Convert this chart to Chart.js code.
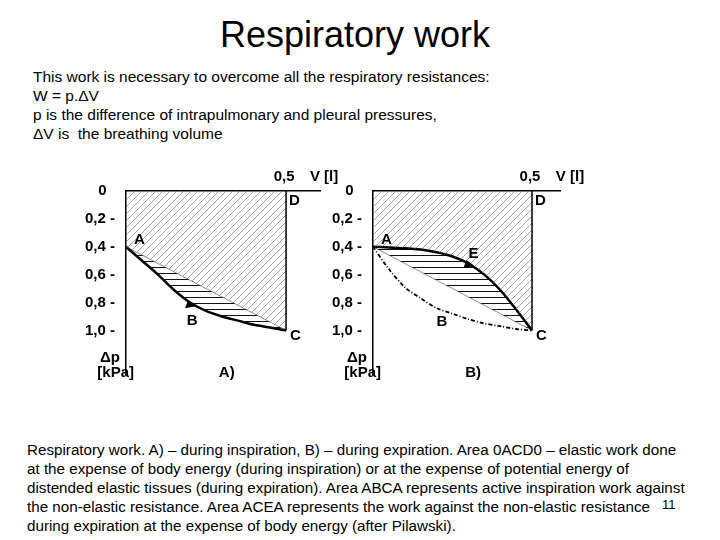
<!DOCTYPE html>
<html>
<head>
<meta charset="utf-8">
<script src="https://cdn.jsdelivr.net/npm/chart.js@4/dist/chart.umd.min.js"></script>
<style>
  body { margin: 0; width: 720px; height: 540px; background: #fff; font-family: Arial, "Liberation Sans", sans-serif; position: relative; overflow: hidden; }
  h1 { position: absolute; left: 0; width: 710px; top: 14px; margin: 0; text-align: center; font-weight: normal; font-size: 36px; }
  .intro { position: absolute; left: 33px; top: 67px; font-size: 15.5px; line-height: 19px; }
  .caption { position: absolute; left: 27px; top: 441px; font-size: 15.2px; line-height: 18.9px; width: 665px; }
  .pg { position: absolute; left: 662px; top: 497px; font-size: 13px; }
  canvas { position: absolute; }
</style>
</head>
<body>
<h1>Respiratory work</h1>
<div class="intro">This work is necessary to overcome all the respiratory resistances:<br>
W = p.&Delta;V<br>
p is the difference of intrapulmonary and pleural pressures,<br>
&Delta;V is&nbsp; the breathing volume</div>
<div style="position:absolute;left:70px;top:165px;width:300px;height:235px"><canvas id="chartA"></canvas></div>
<div style="position:absolute;left:317px;top:165px;width:293px;height:235px"><canvas id="chartB"></canvas></div>
<div class="caption">Respiratory work. A) – during inspiration, B) – during expiration. Area 0ACD0 – elastic work done at the expense of body energy (during inspiration) or at the expense of potential energy of distended elastic tissues (during expiration). Area ABCA represents active inspiration work against the non-elastic resistance. Area ACEA represents the work against the non-elastic resistance during expiration at the expense of body energy (after Pilawski).</div>
<div class="pg">11</div>
<script>
const volumes = [0, 0.05, 0.1, 0.15, 0.2, 0.25, 0.3, 0.35, 0.4, 0.45, 0.5];
const zeroLine = [0, 0, 0, 0, 0, 0, 0, 0, 0, 0, 0];
const lineAC = [0.4, 0.46, 0.52, 0.58, 0.64, 0.70, 0.76, 0.82, 0.88, 0.94, 1.0];
const curveABC = [0.4, 0.5, 0.6, 0.71, 0.8, 0.86, 0.9, 0.93, 0.96, 0.98, 1.0];
const curveAEC = [0.4, 0.405, 0.41, 0.42, 0.44, 0.47, 0.52, 0.6, 0.71, 0.85, 1.0];
const curveABCdot = [0.4, 0.56, 0.69, 0.77, 0.84, 0.88, 0.92, 0.95, 0.97, 0.99, 1.0];
const pressureTicks = [0, 0.2, 0.4, 0.6, 0.8, 1.0];

function pts(ys) { return volumes.map((v, i) => ({ x: v, y: ys[i] })); }

function makePattern(kind) {
  const c = document.createElement('canvas');
  const s = kind === 'diag' ? 7 : 6;
  c.width = s; c.height = s;
  const g = c.getContext('2d');
  g.strokeStyle = kind === 'diag' ? '#666' : '#111';
  g.lineWidth = kind === 'diag' ? 0.6 : 1;
  g.beginPath();
  if (kind === 'diag') {
    g.moveTo(0, s); g.lineTo(s, 0);
    g.moveTo(-1, 1); g.lineTo(1, -1);
    g.moveTo(s - 1, s + 1); g.lineTo(s + 1, s - 1);
  } else {
    g.moveTo(0, 0.5); g.lineTo(s, 0.5);
  }
  g.stroke();
  return g.createPattern(c, 'repeat');
}
const diag = makePattern('diag');
const horiz = makePattern('horiz');
const bold = 'bold 15px Arial, "Liberation Sans", sans-serif';

function labelsPlugin(letters, panel) {
  return {
    id: 'labels' + panel,
    afterDraw(chart) {
      const x = chart.scales.x, y = chart.scales.y, ctx = chart.ctx;
      const X = v => x.getPixelForValue(v), Y = v => y.getPixelForValue(v);
      ctx.save();
      ctx.fillStyle = '#000';
      ctx.strokeStyle = '#000';
      ctx.lineWidth = 1.5;
      ctx.beginPath(); ctx.moveTo(X(0.5), Y(0)); ctx.lineTo(X(0.5), Y(1.0)); ctx.stroke();
      ctx.font = bold;
      ctx.textBaseline = 'middle';
      ctx.textAlign = 'center';
      ctx.fillText('0,5', X(0.5) - 2, Y(0) - 14);
      ctx.fillText('V [l]', X(0.5) + 38, Y(0) - 14);
      ctx.textAlign = 'left';
      ctx.fillText('D', X(0.5) + 3, Y(0.07));
      ctx.fillText('C', X(0.5) + 4, Y(1.04));
      ctx.fillText('A', X(0) + 8, Y(0.35));
      ctx.fillText('B', X(letters.B[0]), Y(letters.B[1]));
      if (letters.E) ctx.fillText('E', X(letters.E[0]), Y(letters.E[1]));
      ctx.textAlign = 'right';
      ctx.fillText('\u0394p', X(0) - 6, Y(1.2));
      ctx.fillText('[kPa]', X(0) + 8, Y(1.32) - 2);
      ctx.textAlign = 'left';
      ctx.fillText(panel + ')', X(0.29), Y(1.32) - 2);
      const a = letters.arrow;
      ctx.beginPath();
      ctx.moveTo(X(a[0]) + 6, Y(a[1]) + 1);
      ctx.lineTo(X(a[0]) - 5, Y(a[1]) + 3);
      ctx.lineTo(X(a[0]) - 2, Y(a[1]) - 5);
      ctx.closePath(); ctx.fill();
      ctx.restore();
    }
  };
}

function makeChart(id, datasets, letters, panel, xMax) {
  new Chart(document.getElementById(id), {
    type: 'line',
    data: { datasets },
    options: {
      responsive: true,
      maintainAspectRatio: false,
      animation: false,
      layout: { padding: { right: 50, bottom: 25 } },
      plugins: { legend: { display: false }, tooltip: { enabled: false } },
      elements: { point: { radius: 0 }, line: { tension: 0.3 } },
      scales: {
        x: {
          type: 'linear', position: 'top', min: 0, max: xMax,
          grid: { display: false },
          border: { color: '#000', width: 1.5 },
          ticks: { display: false },
          afterFit: s => { s.height = 26; }
        },
        y: {
          type: 'linear', reverse: true, min: 0, max: 1.32,
          grid: { display: false },
          border: { color: '#000', width: 1.5 },
          afterBuildTicks: s => { s.ticks = pressureTicks.map(v => ({ value: v })); },
          ticks: {
            color: '#000', font: { family: 'Arial', size: 15, weight: 'bold' }, padding: 3,
            callback: v => (v === 0 ? '0  ' : v.toFixed(1).replace('.', ',') + ' -')
          },
          afterFit: s => { s.width = 56; }
        }
      }
    },
    plugins: [labelsPlugin(letters, panel)]
  });
}

makeChart('chartA', [
  { data: pts(zeroLine), borderWidth: 0, borderColor: 'transparent', fill: '+1', backgroundColor: diag },
  { data: pts(lineAC), borderWidth: 0.6, borderColor: '#444', tension: 0, fill: '+1', backgroundColor: horiz },
  { data: pts(curveABC), borderWidth: 2.5, borderColor: '#000', fill: false }
], { B: [0.19, 0.93], arrow: [0.2, 0.82] }, 'A', 0.606);

makeChart('chartB', [
  { data: pts(zeroLine), borderWidth: 0, borderColor: 'transparent', fill: '+1', backgroundColor: diag },
  { data: pts(curveAEC), borderWidth: 2.5, borderColor: '#000', fill: '+1', backgroundColor: horiz },
  { data: pts(lineAC), borderWidth: 0.6, borderColor: '#444', tension: 0, fill: false },
  { data: pts(curveABCdot), borderWidth: 1.8, borderColor: '#000', borderDash: [4, 2, 1, 2], fill: false }
], { B: [0.2, 0.94], E: [0.3, 0.45], arrow: [0.3, 0.53] }, 'B', 0.588);
</script>
</body>
</html>
